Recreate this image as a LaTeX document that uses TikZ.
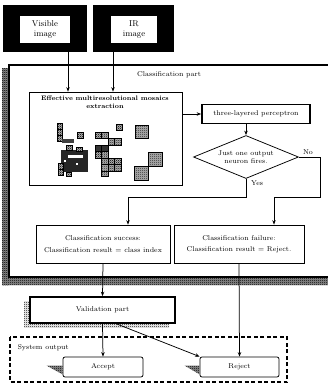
\documentclass[tikz,border=0pt]{standalone}
\usetikzlibrary{arrows.meta,shapes.geometric,patterns,shadows,calc}
\pgfdeclarepatternformonly{finecheck}{\pgfqpoint{0pt}{0pt}}{\pgfqpoint{2pt}{2pt}}{\pgfqpoint{2pt}{2pt}}{%
  \pgfpathrectangle{\pgfqpoint{0pt}{0pt}}{\pgfqpoint{1pt}{1pt}}%
  \pgfpathrectangle{\pgfqpoint{1pt}{1pt}}{\pgfqpoint{1pt}{1pt}}%
  \pgfusepath{fill}}
\begin{document}
\begin{tikzpicture}[x=1pt,y=-1pt,
  every node/.style={font=\fontsize{7}{8.5}\selectfont},
  arr/.style={-{Stealth[length=4.5pt,width=3.5pt]}, line width=0.75pt},
  thinbox/.style={draw, line width=0.7pt, fill=white, inner sep=0pt},
  thickbox/.style={draw, line width=1.7pt, fill=white, inner sep=0pt},
  hatch/.style={preaction={fill=black!45}, pattern=finecheck, pattern color=black},
  cellp/.style={draw, line width=0.6pt, preaction={fill=black!30}, pattern=finecheck, pattern color=black!85},
  celld/.style={draw, line width=0.6pt, fill=black!80},
  roundbox/.style={draw, line width=0.75pt, rounded corners=2pt, fill=white, inner sep=0pt, minimum width=80pt, minimum height=20pt}
]
\useasboundingbox (0,0) rectangle (328,383);

% input frames
\node[fill=black, minimum width=84pt, minimum height=47pt, inner sep=0pt] (visframe) at (45,28.5) {};
\node[fill=white, minimum width=50pt, minimum height=27pt, inner sep=0pt, align=center, font=\fontsize{8.5}{9.5}\selectfont] (vis) at (45,29.5) {Visible\\image};
\node[fill=black, minimum width=81pt, minimum height=47pt, inner sep=0pt] (irframe) at (133.5,28.5) {};
\node[fill=white, minimum width=46pt, minimum height=27pt, inner sep=0pt, align=center, font=\fontsize{8.5}{9.5}\selectfont] (ir) at (134,29.5) {IR\\image};

% classification frame
\fill[hatch] (2,68) rectangle (9,285);
\fill[hatch] (2,277) rectangle (330,285);
\draw[line width=1.6pt] (330,65) -- (9,65) -- (9,277) -- (330,277);
\node (clpart) at (169,75) {Classification part};

% mosaic box
\node[thinbox, minimum width=153pt, minimum height=93pt] (mos) at (105.5,138.5) {};
\node[align=center, font=\bfseries\fontsize{6.5}{8}\selectfont] (mostitle) at (105,102.5) {Effective multiresolutional mosaics\\extraction};

% mosaics: left group
\foreach \y in {123,129,135} \draw[cellp] (57,\y) rectangle ++(5,6);
\fill[black!75] (62,139) rectangle (74,143);
\draw[cellp] (77,132) rectangle ++(6,6);
\fill[black!85] (61,150) rectangle (88,172);
\fill[white] (68,155) rectangle (83,158);
\fill[white] (64,160) rectangle ++(2,2);
\fill[white] (76,163) rectangle ++(2,2);
\draw[cellp] (58,163) rectangle ++(5,6);
\draw[cellp] (58,169) rectangle ++(5,6);
\draw[cellp] (66,172) rectangle ++(5,4);
\draw[cellp] (66,145) rectangle ++(6,5);
\draw[cellp] (76,147) rectangle ++(6,4);
% middle group
\draw[cellp] (116,124) rectangle ++(6.5,6.5);
\foreach \x in {95,101.5} \draw[cellp] (\x,132) rectangle ++(6.5,6.5);
\foreach \x in {108,114.5} \draw[cellp] (\x,138.5) rectangle ++(6.5,6.5);
\foreach \x in {95,101.5} \draw[celld] (\x,145) rectangle ++(6.5,6.5);
\foreach \x in {95,101.5} \draw[cellp] (\x,151.5) rectangle ++(6.5,6.5);
\foreach \x in {101.5,108,114.5} \draw[cellp] (\x,158) rectangle ++(6.5,6.5);
\foreach \x in {101.5,108,114.5} \draw[cellp] (\x,164.5) rectangle ++(6.5,6.5);
\draw[cellp] (101.5,171) rectangle ++(6.5,5);
% right group
\draw[cellp] (135,125) rectangle ++(13,13);
\draw[cellp] (148,152) rectangle ++(14,14);
\draw[cellp] (134,166) rectangle ++(14,14);

% arrows from inputs
\draw[arr] ([xshift=23pt]visframe.south) -- ([xshift=23pt]visframe.south |- mos.north);
\draw[arr] ([xshift=-20.5pt]irframe.south) -- ([xshift=-20.5pt]irframe.south |- mos.north);

% perceptron
\node[thickbox, minimum width=108pt, minimum height=19pt] (perc) at (256,114) {three-layered perceptron};
\draw[arr] (mos.east |- perc) -- (perc.west);

% decision
\node[diamond, draw, line width=0.75pt, fill=white, minimum width=105pt, minimum height=43pt, inner sep=0pt, aspect=2.4, align=center] (dec) at (246,157) {Just one output\\neuron fires.};
\draw[arr] (dec.north |- perc.south) -- (dec.north);

% result boxes
\node[thinbox, minimum width=134pt, minimum height=38pt, align=center] (succ) at (103,244) {Classification success:\\[3pt]Classification result = class index};
\node[thinbox, minimum width=130pt, minimum height=38pt, align=center] (fail) at (239,244) {Classification failure:\\[3pt]Classification result = Reject.};

\coordinate (ylev) at (0,197);
\coordinate (nox) at (320,0);
\draw[arr] (dec.south) -- (dec.south |- ylev) -| ([xshift=25pt]succ.north);
\draw[arr] (dec.east) -| (nox |- ylev) -| ([xshift=35pt]fail.north);
\node (yes) at (257,183.5) {Yes};
\node (no) at (308,152) {No};

% validation
\node[thickbox, minimum width=145pt, minimum height=26pt, general shadow={shadow xshift=-6pt, shadow yshift=-4pt, preaction={fill=black!45}, pattern=finecheck, pattern color=black}] (valid) at (102.5,310) {Validation part};
\draw[arr] (succ.south) -- (valid.north);

% system output
\draw[line width=1.3pt, dash pattern=on 4pt off 2.5pt] (10,337) rectangle (287,382);
\node[anchor=west] (sysout) at (14,348) {System output};

\node[roundbox] (acc) at (103,367) {Accept};
\node[roundbox, minimum width=79pt] (rej) at (239.5,367) {Reject};
\fill[hatch] ([xshift=-16pt,yshift=-9pt]acc.north west) -- ([yshift=-9pt]acc.north west) -- ([yshift=3pt]acc.south west) -- cycle;
\fill[hatch] ([xshift=-15pt,yshift=-9pt]rej.north west) -- ([yshift=-9pt]rej.north west) -- ([yshift=3pt]rej.south west) -- cycle;

\draw[arr] (valid.south) -- (acc.north);
\draw[arr] ([xshift=14pt]valid.south) -- (rej.north west);
\draw[arr] (fail.south) -- (rej.north);
\end{tikzpicture}
\end{document}
